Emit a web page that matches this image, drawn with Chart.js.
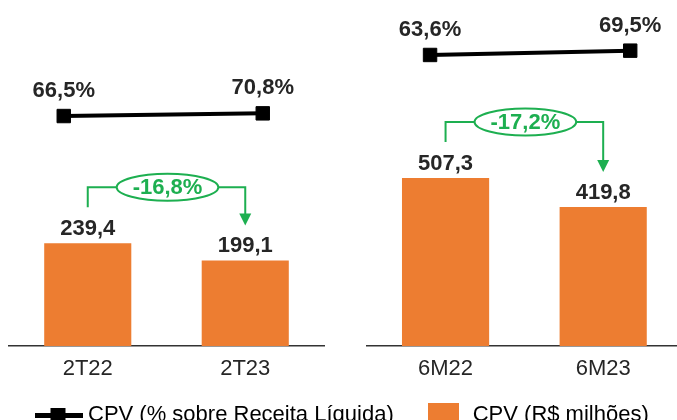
<!DOCTYPE html>
<html>
<head>
<meta charset="utf-8">
<script src="https://cdn.jsdelivr.net/npm/chart.js@4.4.0/dist/chart.umd.min.js"></script>
<style>
  html, body { margin: 0; padding: 0; background: #fff; overflow: hidden; }
  #quadro { position: relative; width: 677px; height: 420px; overflow: hidden; }
  #quadro canvas { position: absolute; top: 0; }
  #graficoTri { left: 0; }
  #graficoSem { left: 340px; }
</style>
</head>
<body>
<div id="quadro">
  <canvas id="graficoTri" width="700" height="436"></canvas>
  <canvas id="graficoSem" width="342" height="436"></canvas>
</div>
<script>
// Dados do grafico de CPV
const categoriasTri = ['2T22', '2T23'];
const categoriasSem = ['6M22', '6M23'];
const cpvTri = [239.4, 199.1];   // R$ milhoes
const cpvSem = [507.3, 419.8];
const pctTri = [66.5, 70.8];     // % sobre receita liquida
const pctSem = [63.6, 69.5];
const nomesSeries = ['CPV (% sobre Receita Líquida)', 'CPV (R$ milhões)'];

const laranja = '#ED7D31';
const verde = '#1DAF50';
const texto = '#262626';
const fonte = "'Liberation Sans', Arial, sans-serif";

Chart.defaults.font.family = fonte;
Chart.defaults.color = texto;

function fmt(v) {
  return v.toFixed(1).replace('.', ',');
}

// icones da legenda (linha com marcador e caixa laranja)
function iconeLinha() {
  const c = document.createElement('canvas');
  c.width = 48; c.height = 16;
  const ctx = c.getContext('2d');
  ctx.fillStyle = '#000';
  ctx.fillRect(0, 6, 48, 5);
  ctx.fillRect(16, 1, 15, 15);
  return c;
}

function iconeBarra() {
  const c = document.createElement('canvas');
  c.width = 31; c.height = 24;
  const ctx = c.getContext('2d');
  ctx.fillStyle = laranja;
  ctx.fillRect(0, 0, 31, 24);
  return c;
}

// rotulos de valores e seta de variacao
const rotulos = {
  id: 'rotulos',
  afterLayout(chart) {
    // deixa os rotulos do eixo x passarem por cima da area da legenda
    chart.scales.x.bottom = chart.height;
  },
  afterDatasetsDraw(chart) {
    const ctx = chart.ctx;
    const pontos = chart.getDatasetMeta(0).data;
    const barras = chart.getDatasetMeta(1).data;
    const pct = chart.data.datasets[0].data;
    const cpv = chart.data.datasets[1].data;

    ctx.save();
    ctx.font = 'bold 22px ' + fonte;
    ctx.textAlign = 'center';
    ctx.textBaseline = 'middle';
    ctx.fillStyle = texto;
    barras.forEach((b, i) => ctx.fillText(fmt(cpv[i]), b.x, b.y - 14.5));
    pontos.forEach((p, i) => ctx.fillText(fmt(pct[i].y) + '%', p.x, p.y - 25));

    const b0 = barras[0], b1 = barras[1];
    const variacao = fmt((cpv[1] / cpv[0] - 1) * 100) + '%';
    const cx = (b0.x + b1.x) / 2 + 1;
    const cy = b0.y - 56;
    const rw = ctx.measureText(variacao).width / 2 + 16;
    const rh = 13.5;

    ctx.strokeStyle = verde;
    ctx.fillStyle = verde;
    ctx.lineWidth = 2;
    ctx.beginPath();
    ctx.moveTo(b0.x, b0.y - 36);
    ctx.lineTo(b0.x, cy);
    ctx.lineTo(cx - rw, cy);
    ctx.moveTo(cx + rw, cy);
    ctx.lineTo(b1.x, cy);
    ctx.lineTo(b1.x, b1.y - 46);
    ctx.stroke();

    ctx.beginPath();
    ctx.moveTo(b1.x - 6, b1.y - 47);
    ctx.lineTo(b1.x + 6, b1.y - 47);
    ctx.lineTo(b1.x, b1.y - 35);
    ctx.closePath();
    ctx.fill();

    ctx.beginPath();
    ctx.ellipse(cx, cy, rw, rh, 0, 0, Math.PI * 2);
    ctx.stroke();
    ctx.fillText(variacao, cx, cy + 1);
    ctx.restore();
  }
};

function montarGrafico(id, categorias, cpv, pct, esc) {
  return new Chart(document.getElementById(id), {
    type: 'bar',
    data: {
      labels: categorias,
      datasets: [
        {
          type: 'line',
          label: nomesSeries[0],
          data: pct.map((v, i) => ({ x: i, y: v })),
          xAxisID: 'xl',
          yAxisID: 'y2',
          borderColor: '#000',
          backgroundColor: '#000',
          borderWidth: 4,
          pointStyle: 'rect',
          pointRadius: 9.5,
          pointBorderWidth: 1,
          clip: false
        },
        {
          label: nomesSeries[1],
          data: cpv,
          backgroundColor: laranja,
          grouped: false,
          categoryPercentage: 1,
          barPercentage: 0.553,
          xAxisID: 'x',
          yAxisID: 'y'
        }
      ]
    },
    options: {
      responsive: false,
      animation: false,
      events: [],
      layout: { autoPadding: false, padding: { left: esc.padLeft, right: 0, top: 0, bottom: 0 } },
      scales: {
        x: {
          offset: true,
          grid: { display: false, drawTicks: false },
          border: { display: true, color: '#333', width: 1.5 },
          ticks: { font: { size: 22 }, color: texto, padding: 10, autoSkip: false, maxRotation: 0 },
          afterFit: s => { s.height = esc.alturaX; }
        },
        xl: { type: 'linear', display: false, offset: false, min: esc.xlMin, max: esc.xlMax },
        y: { display: false, min: 0, max: esc.yMax },
        y2: {
          position: 'right',
          min: esc.y2Min, max: esc.y2Max,
          display: esc.larguraY2 > 0,
          grid: { display: false },
          border: { display: false },
          ticks: { display: false },
          afterFit: s => { s.width = esc.larguraY2; }
        }
      },
      plugins: {
        tooltip: { enabled: false },
        legend: {
          display: esc.legenda,
          position: 'bottom',
          align: 'start',
          labels: {
            usePointStyle: true,
            pointStyleWidth: 37,
            padding: 31,
            color: texto,
            font: { size: 22 },
            generateLabels: () => [
              { text: nomesSeries[0], pointStyle: iconeLinha(), fillStyle: '#000', strokeStyle: '#000', lineWidth: 0, datasetIndex: 0, hidden: false },
              { text: nomesSeries[1], pointStyle: iconeBarra(), fillStyle: laranja, strokeStyle: laranja, lineWidth: 0, datasetIndex: 1, hidden: false }
            ]
          }
        }
      }
    },
    plugins: [rotulos]
  });
}

montarGrafico('graficoTri', categoriasTri, cpvTri, pctTri, {
  padLeft: 9, larguraY2: 376, alturaX: 27, legenda: true,
  xlMin: -0.2751, xlMax: 1.3077, yMax: 806, y2Min: -299.7, y2Max: 251.3
});

montarGrafico('graficoSem', categoriasSem, cpvSem, pctSem, {
  padLeft: 26.75, larguraY2: 0, alturaX: 90, legenda: false,
  xlMin: -0.3163, xlMax: 1.2587, yMax: 1045, y2Min: -335.6, y2Max: 139
});
</script>
</body>
</html>
